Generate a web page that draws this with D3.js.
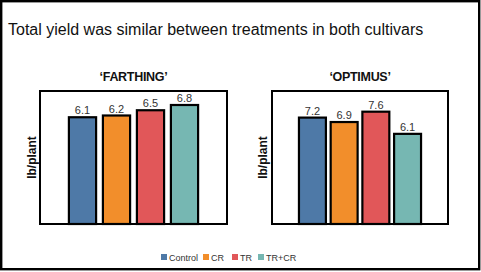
<!DOCTYPE html>
<html>
<head>
<meta charset="utf-8">
<script src="https://cdn.jsdelivr.net/npm/d3@7"></script>
<style>
  body { margin: 0; background: #fff; }
  svg { display: block; font-family: "Liberation Sans", Arial, sans-serif; }
</style>
</head>
<body>
<div id="chart"></div>
<script>
// data
const treatments = ["Control", "CR", "TR", "TR+CR"];
const colors = ["#4e79a7", "#f28e2b", "#e15759", "#76b7b2"];
const cultivars = ["\u2018FARTHING\u2019", "\u2018OPTIMUS\u2019"];
const farthingYield = [6.1, 6.2, 6.5, 6.8];
const optimusYield = [7.2, 6.9, 7.6, 6.1];
const yMax = [7.6, 9];
const title = "Total yield was similar between treatments in both cultivars";
const yLabel = "lb/plant";

const W = 481, H = 272;
const svg = d3.select("#chart").append("svg")
  .attr("width", W)
  .attr("height", H);

// outer frame
svg.append("rect")
  .attr("x", 1.2).attr("y", 1.2)
  .attr("width", W - 3).attr("height", H - 4)
  .attr("fill", "#fff")
  .attr("stroke", "#000")
  .attr("stroke-width", 2.4);

svg.append("text")
  .attr("x", 8).attr("y", 35)
  .attr("font-size", "16px")
  .attr("fill", "#111")
  .text(title);

// panel boxes
const panels = [
  { x0: 40, x1: 227, values: farthingYield, pad: 0.2, labelX: 32 },
  { x0: 272, x1: 448, values: optimusYield, pad: 0.15, labelX: 263 }
];
const plotTop = 91, plotBottom = 224;

panels.forEach((p, i) => {
  const g = svg.append("g");

  const x = d3.scaleBand()
    .domain(treatments)
    .range([p.x0, p.x1])
    .paddingInner(p.pad)
    .paddingOuter(0.85);

  const y = d3.scaleLinear()
    .domain([0, yMax[i]])
    .range([plotBottom, plotTop]);

  g.append("rect")
    .attr("x", p.x0).attr("y", plotTop)
    .attr("width", p.x1 - p.x0).attr("height", plotBottom - plotTop)
    .attr("fill", "#fff")
    .attr("stroke", "#000")
    .attr("stroke-width", 2);

  g.selectAll(".bar")
    .data(p.values)
    .enter()
    .append("rect")
    .attr("class", "bar")
    .attr("x", (d, j) => x(treatments[j]))
    .attr("y", d => y(d))
    .attr("width", x.bandwidth())
    .attr("height", d => y(0) - y(d))
    .attr("fill", (d, j) => colors[j])
    .attr("stroke", "#000")
    .attr("stroke-width", 2.2);

  g.selectAll(".val")
    .data(p.values)
    .enter()
    .append("text")
    .attr("x", (d, j) => x(treatments[j]) + x.bandwidth() / 2)
    .attr("y", d => y(d) - 3)
    .attr("text-anchor", "middle")
    .attr("font-size", "11px")
    .attr("fill", "#333")
    .text(d => d.toFixed(1));

  g.append("text")
    .attr("x", (p.x0 + p.x1) / 2)
    .attr("y", 81)
    .attr("text-anchor", "middle")
    .attr("font-size", "12.5px")
    .attr("font-weight", "bold")
    .attr("letter-spacing", "-0.3px")
    .attr("fill", "#111")
    .text(cultivars[i]);

  g.append("text")
    .attr("transform", `translate(${p.labelX + 4},${(plotTop + plotBottom) / 2}) rotate(-90)`)
    .attr("text-anchor", "middle")
    .attr("font-size", "12px")
    .attr("font-weight", "bold")
    .attr("fill", "#111")
    .text(yLabel);
});

// legend
const legendX = [161, 203, 232, 258];
const legend = svg.append("g");
treatments.forEach((t, j) => {
  legend.append("rect")
    .attr("x", legendX[j]).attr("y", 254)
    .attr("width", 6).attr("height", 6)
    .attr("fill", colors[j]);
  legend.append("text")
    .attr("x", legendX[j] + 8).attr("y", 260.5)
    .attr("font-size", "9px")
    .attr("fill", "#333")
    .text(t);
});
</script>
</body>
</html>
